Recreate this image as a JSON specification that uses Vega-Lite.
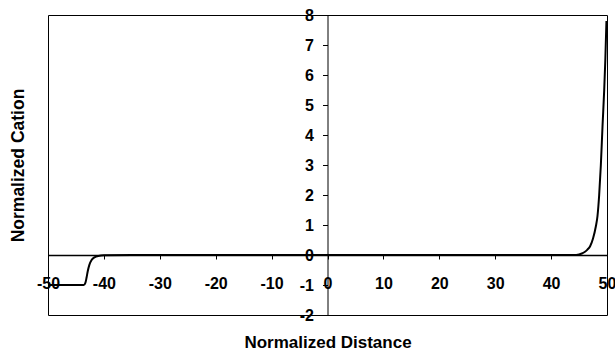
{
  "$schema": "https://vega.github.io/schema/vega-lite/v6.json",
  "width": 559,
  "height": 300,
  "autosize": {"type": "none"},
  "padding": {"left": 48, "top": 15, "right": 8, "bottom": 39},
  "background": "white",
  "config": {
    "view": {"stroke": "#000", "strokeWidth": 1},
    "font": "Liberation Sans",
    "axis": {"grid": false, "domainColor": "#000", "tickColor": "#000", "labelColor": "#000", "titleColor": "#000", "labelFont": "Liberation Sans", "titleFont": "Liberation Sans", "labelFontWeight": "bold", "titleFontWeight": "bold"}
  },
  "data": {
    "values": [
      {"x": -50, "y": -1},
      {"x": -43.6, "y": -1},
      {"x": -43.3, "y": -0.92},
      {"x": -43.1, "y": -0.75},
      {"x": -42.9, "y": -0.55},
      {"x": -42.6, "y": -0.33},
      {"x": -42.2, "y": -0.17},
      {"x": -41.7, "y": -0.08},
      {"x": -41.0, "y": -0.03},
      {"x": -40.0, "y": -0.01},
      {"x": -35, "y": 0},
      {"x": 0, "y": 0},
      {"x": 44, "y": 0},
      {"x": 45, "y": 0.02},
      {"x": 45.5, "y": 0.05},
      {"x": 46, "y": 0.1},
      {"x": 46.5, "y": 0.18},
      {"x": 47, "y": 0.3},
      {"x": 47.5, "y": 0.55},
      {"x": 48, "y": 0.95},
      {"x": 48.3, "y": 1.3},
      {"x": 48.6, "y": 2.0},
      {"x": 48.9, "y": 3.0},
      {"x": 49.2, "y": 4.3},
      {"x": 49.5, "y": 5.5},
      {"x": 49.7, "y": 6.5},
      {"x": 49.9, "y": 7.8}
    ]
  },
  "mark": {"type": "line", "color": "#000", "strokeWidth": 2, "interpolate": "monotone", "clip": true},
  "encoding": {
    "x": {
      "field": "x", "type": "quantitative",
      "scale": {"domain": [-50, 50], "nice": false, "zero": false},
      "axis": {
        "orient": "bottom", "offset": -60,
        "values": [-50, -40, -30, -20, -10, 0, 10, 20, 30, 40, 50],
        "labelExpr": "toString(datum.value)",
        "domainWidth": 1.5, "tickSize": 4, "labelPadding": 16, "labelFontSize": 16,
        "labelFlush": false, "labelOverlap": false,
        "title": "Normalized Distance", "titleFontSize": 17,
        "titleY": 92, "titleBaseline": "alphabetic"
      }
    },
    "y": {
      "field": "y", "type": "quantitative",
      "scale": {"domain": [-2, 8], "nice": false, "zero": false},
      "axis": {
        "orient": "left", "offset": -279.5,
        "values": [-2, -1, 0, 1, 2, 3, 4, 5, 6, 7, 8],
        "labelExpr": "toString(datum.value)",
        "domainWidth": 1, "tickSize": 5, "labelPadding": 9, "labelFontSize": 16,
        "labelFlush": false, "labelOverlap": false,
        "title": "Normalized Cation", "titleFontSize": 17.5,
        "titleAngle": -90, "titleX": -309, "titleBaseline": "middle"
      }
    }
  }
}
